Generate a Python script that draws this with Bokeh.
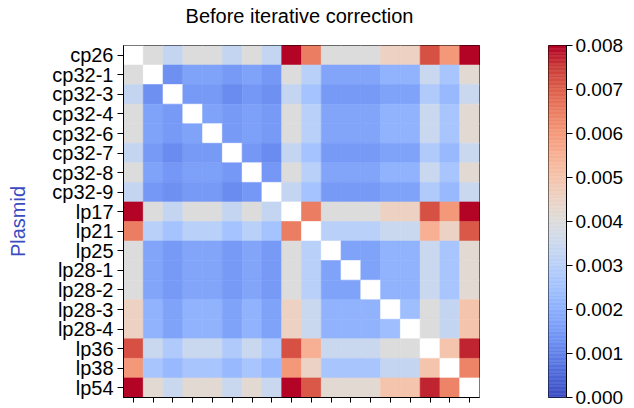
import numpy as np
from bokeh.plotting import figure
from bokeh.models import ColumnDataSource, LinearColorMapper, FixedTicker, Range1d, NumeralTickFormatter
from bokeh.core.properties import value
from bokeh.transform import transform
from bokeh.layouts import row, column
from bokeh.embed import file_html
from bokeh.resources import INLINE

plasmids = ["cp26", "cp32-1", "cp32-3", "cp32-4", "cp32-6", "cp32-7", "cp32-8", "cp32-9",
            "lp17", "lp21", "lp25", "lp28-1", "lp28-2", "lp28-3", "lp28-4", "lp36", "lp38", "lp54"]
N = float("nan")

r_cp26   = [N, .0040, .0033, .0040, .0040, .0033, .0040, .0033, .0085, .0065, .0040, .0040, .0040, .00455, .00455, .0072, .0060, .0085]
r_cp32_1 = [.0040, N, .0013, .0017, .0017, .0015, .0017, .00145, .0040, .0030, .00175, .00175, .00175, .0021, .0021, .00345, .00265, .0042]
r_cp32_3 = [.0033, .0013, N, .0015, .0015, .0012, .00145, .0013, .0033, .00255, .0015, .0015, .0015, .0017, .0017, .0028, .00225, .00345]
r_cp32_4 = [.0040, .0017, .0015, N, .0017, .0015, .00165, .0015, .0040, .0030, .00175, .00175, .00175, .0021, .0021, .00345, .00265, .0042]
r_cp32_6 = [.0040, .0017, .0015, .0017, N, .0015, .00165, .0015, .0040, .0030, .00175, .00175, .00175, .0021, .0021, .00345, .00265, .0042]
r_cp32_7 = [.0033, .0015, .0012, .0015, .0015, N, .00145, .0012, .0033, .00255, .0015, .0015, .0015, .0017, .0017, .0028, .00225, .00345]
r_cp32_8 = [.0040, .0017, .00145, .00165, .00165, .00145, N, .00145, .0040, .0030, .00175, .00175, .00175, .0021, .0021, .00345, .00265, .0042]
r_cp32_9 = [.0033, .00145, .0013, .0015, .0015, .0012, .00145, N, .0033, .00255, .0015, .0015, .0015, .0017, .0017, .0028, .00225, .00345]
r_lp17   = [.0085, .0040, .0033, .0040, .0040, .0033, .0040, .0033, N, .0065, .0040, .0040, .0040, .00455, .00455, .0072, .0060, .0085]
r_lp21   = [.0065, .0030, .00255, .0030, .0030, .00255, .0030, .00255, .0065, N, .0030, .0030, .0030, .00345, .00345, .0055, .0045, .0071]
r_lp25   = [.0040, .00175, .0015, .00175, .00175, .0015, .00175, .0015, .0040, .0030, N, .0017, .0017, .0021, .0021, .00345, .00265, .0042]
r_lp28_1 = [.0040, .00175, .0015, .00175, .00175, .0015, .00175, .0015, .0040, .0030, .0017, N, .0017, .0021, .0021, .00345, .00265, .0042]
r_lp28_2 = [.0040, .00175, .0015, .00175, .00175, .0015, .00175, .0015, .0040, .0030, .0017, .0017, N, .0021, .0021, .00345, .00265, .0042]
r_lp28_3 = [.00455, .0021, .0017, .0021, .0021, .0017, .0021, .0017, .00455, .00345, .0021, .0021, .0021, N, .0024, .0040, .0033, .0050]
r_lp28_4 = [.00455, .0021, .0017, .0021, .0021, .0017, .0021, .0017, .00455, .00345, .0021, .0021, .0021, .0024, N, .0040, .0033, .0050]
r_lp36   = [.0072, .00345, .0028, .00345, .00345, .0028, .00345, .0028, .0072, .0055, .00345, .00345, .00345, .0040, .0040, N, .0050, .0077]
r_lp38   = [.0060, .00265, .00225, .00265, .00265, .00225, .00265, .00225, .0060, .0045, .00265, .00265, .00265, .0033, .0033, .0050, N, .0064]
r_lp54   = [.0085, .0042, .00345, .0042, .0042, .00345, .0042, .00345, .0085, .0071, .0042, .0042, .0042, .0050, .0050, .0077, .0064, N]

matrix = [r_cp26, r_cp32_1, r_cp32_3, r_cp32_4, r_cp32_6, r_cp32_7, r_cp32_8, r_cp32_9,
          r_lp17, r_lp21, r_lp25, r_lp28_1, r_lp28_2, r_lp28_3, r_lp28_4, r_lp36, r_lp38, r_lp54]

vmin, vmax = 0.0, 0.008
cbar_ticks = [0.000, 0.001, 0.002, 0.003, 0.004, 0.005, 0.006, 0.007, 0.008]
title_text = "Before iterative correction"

# coolwarm colormap anchors
cw = [
    (0.0, 0.2298, 0.2987, 0.7537), (0.0625, 0.3039, 0.4065, 0.8450), (0.125, 0.3830, 0.5094, 0.9174),
    (0.1875, 0.4667, 0.6046, 0.9682), (0.25, 0.5530, 0.6889, 0.9954), (0.3125, 0.6392, 0.7596, 0.9982),
    (0.375, 0.7222, 0.8140, 0.9766), (0.4375, 0.7987, 0.8498, 0.9317), (0.5, 0.8654, 0.8654, 0.8654),
    (0.5625, 0.9241, 0.8274, 0.7745), (0.625, 0.9589, 0.7698, 0.6780), (0.6875, 0.9700, 0.6943, 0.5794),
    (0.75, 0.9580, 0.6028, 0.4818), (0.8125, 0.9239, 0.4973, 0.3880), (0.875, 0.8692, 0.3783, 0.3003),
    (0.9375, 0.7956, 0.2413, 0.2215), (1.0, 0.7057, 0.0156, 0.1502)]
ts = np.array([c[0] for c in cw])
tt = np.linspace(0, 1, 256)
rr = np.interp(tt, ts, [c[1] for c in cw])
gg = np.interp(tt, ts, [c[2] for c in cw])
bb = np.interp(tt, ts, [c[3] for c in cw])
palette = ["#%02x%02x%02x" % (int(round(a * 255)), int(round(b * 255)), int(round(c * 255))) for a, b, c in zip(rr, gg, bb)]

mapper = LinearColorMapper(palette=palette, low=vmin, high=vmax, nan_color="white",
                           high_color=palette[-1], low_color=palette[0])

xs, ys, vs = [], [], []
for i, rowv in enumerate(matrix):
    for j, v in enumerate(rowv):
        xs.append(j + 0.5)
        ys.append(i + 0.5)
        vs.append(v)
src = ColumnDataSource(dict(x=xs, y=ys, v=np.array(vs, dtype=float)))

FONT = "Liberation Sans"
n = len(plasmids)
TH = 36  # height of title strip

# title strip
p0 = figure(width=634, height=TH, x_range=Range1d(0, 634), y_range=Range1d(TH, 0),
            output_backend="svg", toolbar_location=None, min_border=0)
p0.text(x=[299], y=[15], text=[title_text], text_align="center", text_baseline="middle",
        text_font=value(FONT), text_font_size=value("20px"), text_color="black")
p0.axis.visible = False
p0.grid.visible = False
p0.outline_line_color = None

p = figure(width=488, height=408 - TH, x_range=Range1d(0, n), y_range=Range1d(n, 0),
           output_backend="svg", toolbar_location=None,
           min_border_left=123, min_border_right=9, min_border_top=42 - TH, min_border_bottom=9)
p.rect(x="x", y="y", width=1, height=1, source=src,
       fill_color=transform("v", mapper), line_color=transform("v", mapper), line_width=0.6)

p.grid.visible = False
p.outline_line_color = "black"
p.outline_line_width = 1

centers = [k + 0.5 for k in range(n)]
p.xaxis.ticker = FixedTicker(ticks=centers)
p.xaxis.major_label_overrides = {c: "" for c in centers}
p.yaxis.ticker = FixedTicker(ticks=centers)
p.yaxis.major_label_overrides = {c: lab for c, lab in zip(centers, plasmids)}
for ax in (p.xaxis[0], p.yaxis[0]):
    ax.minor_tick_line_color = None
    ax.major_tick_in = 0
    ax.major_tick_out = 6
    ax.major_tick_line_color = "black"
    ax.axis_line_color = "black"
    ax.major_label_text_font = FONT
    ax.major_label_text_font_size = "20px"
    ax.major_label_text_color = "black"
    ax.major_label_standoff = 4
p.xaxis.major_tick_out = 5
p.xaxis.major_label_standoff = 0
p.yaxis.axis_label = "Plasmid"
p.yaxis.axis_label_text_font = FONT
p.yaxis.axis_label_text_font_size = "20px"
p.yaxis.axis_label_text_font_style = "normal"
p.yaxis.axis_label_text_color = "#3b4cc0"
p.yaxis.axis_label_standoff = 20

# colorbar figure
p2 = figure(width=146, height=408 - TH, x_range=Range1d(0, 1), y_range=Range1d(vmin, vmax),
            y_axis_location="right", output_backend="svg", toolbar_location=None,
            min_border_left=60, min_border_right=68, min_border_top=45 - TH, min_border_bottom=11)
edges = np.linspace(vmin, vmax, len(palette) + 1)
p2.quad(left=0, right=1, bottom=edges[:-1], top=edges[1:], fill_color=palette,
        line_color=palette, line_width=0.5)
p2.grid.visible = False
p2.xaxis.visible = False
p2.outline_line_color = "black"
p2.outline_line_width = 1
ya = p2.yaxis[0]
ya.ticker = FixedTicker(ticks=cbar_ticks)
ya.formatter = NumeralTickFormatter(format="0.000")
ya.minor_tick_line_color = None
ya.major_tick_in = 0
ya.major_tick_out = 6
ya.axis_line_color = "black"
ya.major_label_text_font = FONT
ya.major_label_text_font_size = "19px"
ya.major_label_text_color = "black"
ya.major_label_standoff = 3

layout = column(p0, row(p, p2))
open("out.html", "w").write(file_html(layout, INLINE))
